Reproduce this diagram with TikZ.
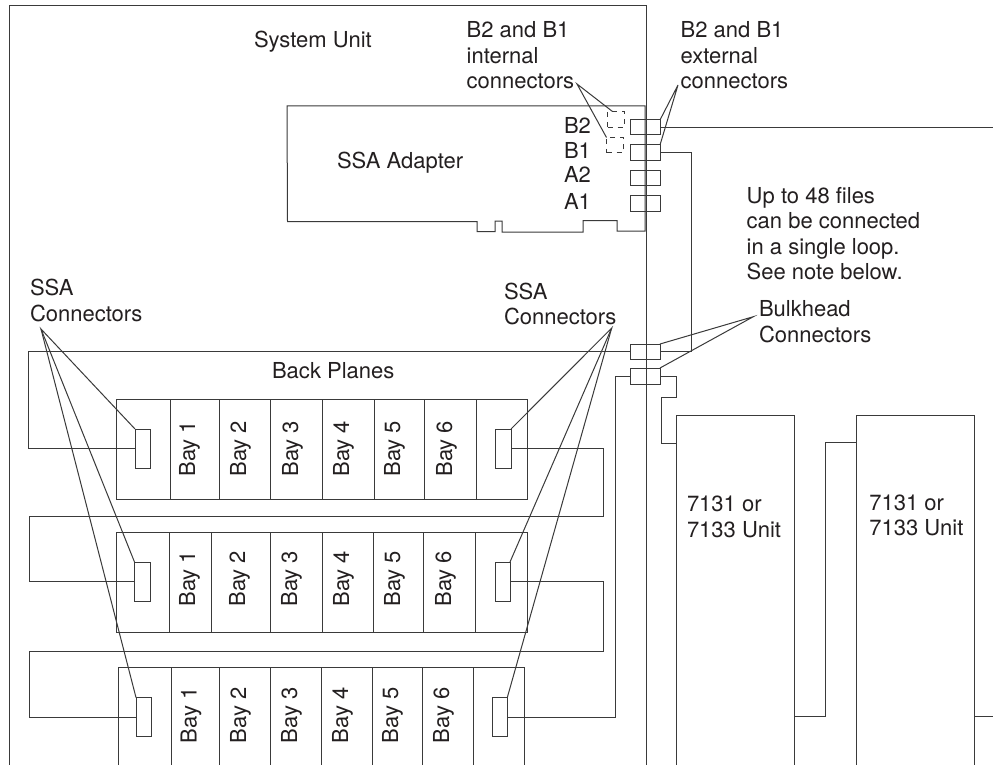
\documentclass[tikz,border=0pt]{standalone}
\usepackage{fontspec}
\setmainfont{TeX Gyre Heros}
\definecolor{ink}{HTML}{3A3A3A}
\definecolor{txt}{HTML}{231F20}
\tikzset{
  line/.style={draw=ink,line width=1pt},
  boxn/.style={draw=ink,line width=1pt,inner sep=0pt,outer sep=0pt,rectangle},
  dashbox/.style={boxn,dash pattern=on 5pt off 5pt},
  lbl/.style={text=txt,inner sep=0pt,outer sep=0pt,anchor=north west,align=left,font=\fontsize{22}{25.5}\selectfont},
  bay/.style={text=txt,inner sep=0pt,outer sep=0pt,rotate=90,anchor=base west,font=\fontsize{22}{25.5}\selectfont},
}
% name, x1, y1, x2, y2
\newcommand{\bx}[6][boxn]{%
  \pgfmathsetmacro{\bxw}{#5-#3}\pgfmathsetmacro{\bxh}{#6-#4}%
  \pgfmathsetmacro{\bxx}{(#3+#5)/2}\pgfmathsetmacro{\bxy}{(#4+#6)/2}%
  \node[#1,minimum width=\bxw pt,minimum height=\bxh pt] (#2) at (\bxx,\bxy) {};}
\begin{document}
\begin{tikzpicture}[x=1pt,y=-1pt]
\clip (0,0) rectangle (993,765);
\fill[white] (0,0) rectangle (993,765);
% enclosures
\bx{sysunit}{9}{6}{646}{775}
\bx{unitA}{676}{415.7}{794}{775}
\bx{unitB}{856}{415.7}{974}{775}
% adapter
\draw[line] (645,106) -- (287,106) -- (287.5,221.5) -- (477,221.5) -- (477,231.7) -- (495,231.7) -- (495,221) -- (502,221) -- (502,232) -- (583,232) -- (583,220.5) -- (617,220.5) -- (617,231) -- (645,231) -- cycle;
% adapter connectors
\bx{extBtwo}{630}{120}{660}{135}
\bx{extBone}{630}{145}{660}{160}
\bx{extAtwo}{630}{170}{660}{185}
\bx{extAone}{630}{195}{660}{211}
\bx[dashbox]{intBtwo}{607.5}{111.5}{624}{127.5}
\bx[dashbox]{intBone}{606.5}{137.5}{623}{153}
% bulkhead
\bx{bulkU}{630}{344}{660}{359}
\bx{bulkL}{630}{368}{660}{384}
% back planes
\bx{planeA}{116}{399.3}{527.7}{499.3}
\bx{planeB}{116}{532.3}{527}{632.3}
\bx{planeC}{118}{667.5}{524.5}{775}
\foreach \x in {170,219,270.5,322.5,374,424,476} \draw[line] (\x,399.3) -- (\x,499.3);
\foreach \x in {169.5,211.5,270.5,322,373.5,423.5,475.5} \draw[line] (\x,532.3) -- (\x,632.3);
\foreach \x in {171,219,270.5,321.5,372.5,422,473} \draw[line] (\x,667.5) -- (\x,775);
\bx{lcA}{135}{429}{150.5}{468}
\bx{rcA}{495}{429}{511}{468}
\bx{lcB}{134.5}{562}{150}{601}
\bx{rcB}{495}{562}{510}{601}
\bx{lcC}{136}{697.5}{151.5}{736.5}
\bx{rcC}{492}{697.5}{507.3}{736.5}
% bay labels
\foreach \x/\t in {195/1,246/2,298/3,349/4,400/5,452/6} \node[bay] (ba\t) at (\x,476.5) {Bay \t};
\foreach \x/\t in {195/1,245/2,297/3,349/4,400/5,451/6} \node[bay] (bb\t) at (\x,606.5) {Bay \t};
\foreach \x/\t in {196.5/1,246/2,297/3,348/4,398/5,449/6} \node[bay] (bc\t) at (\x,743) {Bay \t};
% text
\node[lbl] (tsys) at (254,31) {System Unit};
\node[lbl] (tint) at (466.7,21.5) {B2 and B1\\internal\\connectors};
\node[lbl] (text) at (680.7,21.5) {B2 and B1\\external\\connectors};
\node[lbl] (tad) at (337,152) {SSA Adapter};
\node[lbl] (tb2) at (564,117.5) {B2};
\node[lbl] (tb1) at (564,142.5) {B1};
\node[lbl] (ta2) at (564,166.5) {A2};
\node[lbl] (ta1) at (564,193.5) {A1};
\node[lbl] (tnote) at (746.7,187) {Up to 48 files\\can be connected\\in a single loop.\\See note below.};
\node[lbl] (tssal) at (30,279.5) {SSA\\Connectors};
\node[lbl] (tssar) at (504,283) {SSA\\Connectors};
\node[lbl] (tbulk) at (759,300.5) {Bulkhead\\Connectors};
\node[lbl] (tback) at (272,362) {Back Planes};
\node[lbl] (tua) at (687,496) {7131 or\\7133 Unit};
\node[lbl] (tub) at (869.3,494.5) {7131 or\\7133 Unit};
% leader tips
\coordinate (tipint) at (577,84);
\coordinate (tipext) at (678,85);
\coordinate (tipbulk) at (753.3,316.7);
\coordinate (tipsl) at (41,329);
\coordinate (tipsr) at (611.7,328);
\draw[line] ([xshift=5pt]intBtwo.north west) -- (tipint) -- (intBone.north west);
\draw[line] (extBtwo.north east) -- (tipext) -- (extBone.north east);
\draw[line] (bulkU.north east) -- (tipbulk) -- (bulkL.north east);
\draw[line] (lcA.north west) -- (tipsl) -- (lcB.north west);
\draw[line] (tipsl) -- (lcC.north west);
\draw[line] (rcA.north east) -- (tipsr) -- (rcB.north east);
\draw[line] (tipsr) -- (rcC.north east);
% loop wiring
\coordinate (farR) at (993,127.5);
\draw[line] (extBtwo.east) -- (farR);
\draw[line] (extBone.east) -| (691.5,351.5) -- (bulkU.east);
\draw[line] (bulkU.west) -- (28.5,351.5) |- (lcA.west);
\draw[line] (rcA.east) -- (603,448.5) |- (29.5,516) |- (lcB.west);
\draw[line] (rcB.east) -- (603,581.5) |- (29.5,651) |- (lcC.west);
\draw[line] (rcC.east) -- (615.5,717) |- (bulkL.west);
\draw[line] (bulkL.east) -- (676,376) |- (661,397) |- (unitA.west |- 0,443);
\coordinate (linkT) at (825.3,442.7);
\coordinate (linkB) at (825.3,716.7);
\draw[line] (unitA.east |- linkB) -- (linkB) -- (linkT) -- (unitB.west |- linkT);
\coordinate (farB) at (993,716.7);
\draw[line] (unitB.east |- farB) -- (farB);
\end{tikzpicture}
\end{document}
